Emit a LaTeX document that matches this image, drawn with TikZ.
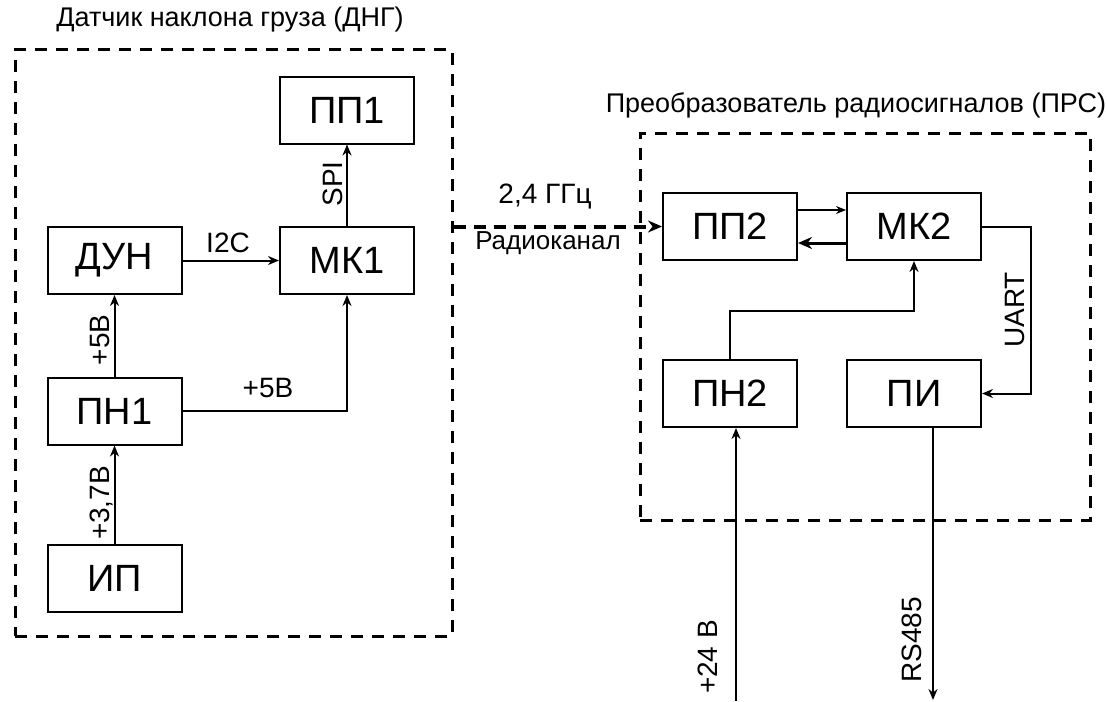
\documentclass[tikz,border=0pt]{standalone}
\usepackage{fontspec}
\setmainfont{Liberation Sans}
\usetikzlibrary{arrows.meta,calc}
\begin{document}
\begin{tikzpicture}[x=1pt,y=-1pt,
  blk/.style={draw,line width=2pt,minimum width=134pt,minimum height=67pt,inner sep=0pt,font=\fontsize{38}{40}\selectfont},
  dbox/.style={draw,line width=3pt,dash pattern=on 12pt off 9pt,inner sep=0pt},
  conn/.style={line width=2pt,-{Stealth[length=11pt,width=9pt]}},
  lbl/.style={font=\fontsize{28}{30}\selectfont,inner sep=0pt},
  ttl/.style={font=\fontsize{27}{29}\selectfont,inner sep=0pt}]
\useasboundingbox (0,0) rectangle (1107,701);
% dashed containers
\node[dbox,minimum width=437pt,minimum height=586pt] (dng) at (233.5,343) {};
\node[dbox,minimum width=450pt,minimum height=387pt] (prs) at (865,326.5) {};
\node[ttl] (tdng) at (230,20) {Датчик наклона груза (ДНГ)};
\node[ttl] (tprs) at (856,105) {Преобразователь радиосигналов (ПРС)};
% blocks
\node[blk] (pp1) at (347,110) {ПП1};
\node[blk] (dun) at (114.5,260.5) {ДУН};
\node[blk] (mk1) at (347,260.5) {МК1};
\node[blk] (pn1) at (114.5,411) {ПН1};
\node[blk] (ip)  at (114.5,578) {ИП};
\node[blk] (pp2) at (730,226.5) {ПП2};
\node[blk] (mk2) at (914,226.5) {МК2};
\node[blk] (pn2) at (730,393.5) {ПН2};
\node[blk] (pi)  at (914,393.5) {ПИ};
% left connectors
\draw[conn] (ip.north) -- (pn1.south);
\draw[conn] (pn1.north) -- (dun.south);
\draw[conn] (dun.east) -- (mk1.west);
\draw[conn] (pn1.east) -| (mk1.south);
\draw[conn] (mk1.north) -- (pp1.south);
\node[lbl,rotate=90] (l37) at (102,503) {+3,7В};
\node[lbl,rotate=90] (l5a) at (100,340) {+5В};
\node[lbl] (l5b) at (268,388) {+5В};
\node[lbl] (li2c) at (228,243) {I2C};
\node[lbl,rotate=90] (lspi) at (333,184) {SPI};
% radio link
\coordinate (rs) at (dng.east |- pp2.west);
\draw[line width=4pt,dash pattern=on 12pt off 8pt,-{Stealth[length=14pt,width=12pt]}] (rs) -- (pp2.west);
\node[lbl] (lghz) at (545,197) {2,4 ГГц};
\node[font=\fontsize{26}{28}\selectfont,inner sep=0pt] (lrad) at (548,243) {Радиоканал};
% right connectors
\draw[line width=1.5pt,-{Stealth[length=10pt,width=8pt]}] ([yshift=16.5pt]pp2.east) -- ([yshift=16.5pt]mk2.west);
\draw[line width=3pt,-{Stealth[length=14pt,width=12pt]}] ([yshift=-16.5pt]mk2.west) -- ([yshift=-16.5pt]pp2.east);
\coordinate (u1) at (1031,226.5);
\draw[conn] (mk2.east) -- (u1) |- (pi.east);
\node[lbl,rotate=90] (luart) at (1015,310) {UART};
\coordinate (p1) at (730,311);
\draw[conn] (pn2.north) -- (p1) -| (mk2.south);
\coordinate (v24) at (736,701);
\draw[conn] (v24) -- (v24 |- pn2.south);
\node[lbl,rotate=90] (l24) at (708,657) {+24 В};
\coordinate (rsend) at (933,700);
\draw[conn] (rsend |- pi.south) -- (rsend);
\node[lbl,rotate=90] (lrs) at (912,640) {RS485};
\end{tikzpicture}
\end{document}
